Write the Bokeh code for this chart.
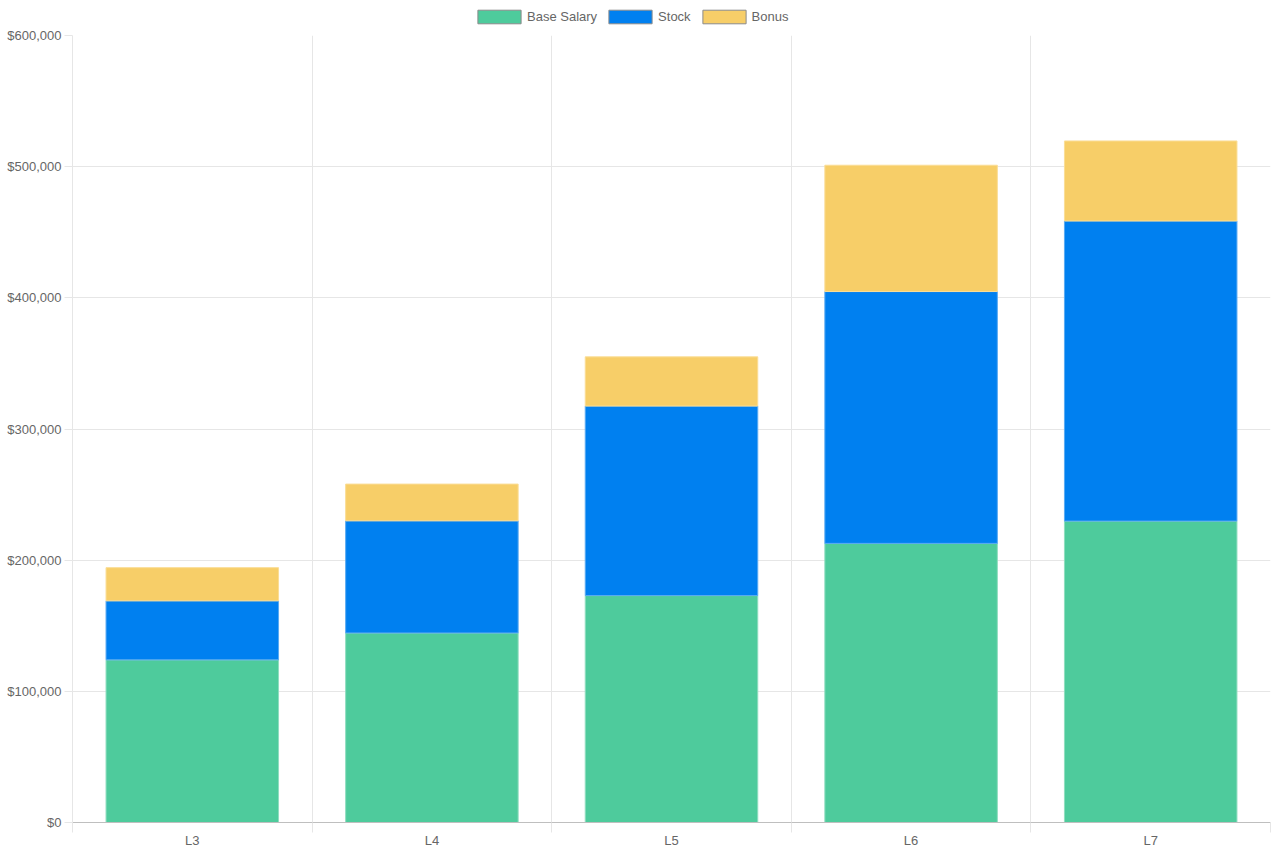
from bokeh.plotting import figure
from bokeh.layouts import column
from bokeh.models import (ColumnDataSource, Range1d, FixedTicker, NumeralTickFormatter,
                          Legend, LegendItem)
from bokeh.embed import file_html
from bokeh.resources import INLINE

# ---- data ----
categories = ["L3", "L4", "L5", "L6", "L7"]
base_salary = [124000, 144500, 173000, 212800, 229800]
stock = [45000, 85500, 144500, 192000, 228800]
bonus = [25300, 28000, 37500, 96300, 61000]
y_ticks = [0, 100000, 200000, 300000, 400000, 500000, 600000]

series_names = ["Base Salary", "Stock", "Bonus"]
fill_colors = ["#4ECB9C", "#0080F0", "#F7CE68"]
edge_colors = ["#8FDDBF", "#5AAAF2", "#FADD96"]

FONT = "Liberation Sans"
TXT = "#666666"
W = 1278
LEG_H = 27
MAIN_H = 824

n = len(categories)
xs = [i + 0.5 for i in range(n)]
src = ColumnDataSource(dict(x=xs, base=base_salary, stock=stock, bonus=bonus))

# ---- legend strip ----
lf = figure(width=W, height=LEG_H, output_backend="svg", toolbar_location=None,
            x_range=Range1d(0, 1), y_range=Range1d(0, 1),
            x_axis_location=None, y_axis_location=None,
            min_border_left=0, min_border_right=0, min_border_top=0, min_border_bottom=0)
lf.outline_line_color = None
lf.xgrid.visible = False
lf.ygrid.visible = False
items = []
for name, c in zip(series_names, fill_colors):
    dummy = ColumnDataSource(dict(x=[float("nan")], top=[float("nan")]))
    r = lf.vbar(x="x", top="top", width=0.5, source=dummy, fill_color=c,
                line_color="#8a8a8a", line_width=1)
    items.append(LegendItem(label=name, renderers=[r]))
legend = Legend(items=items, orientation="horizontal", location=(400, 2),
                glyph_width=54, glyph_height=17, label_standoff=1, spacing=6,
                padding=0, margin=0, border_line_color=None, background_fill_alpha=0,
                label_text_font=FONT, label_text_font_size="13px", label_text_color=TXT,
                label_height=17)
lf.add_layout(legend)

# ---- main chart ----
p = figure(width=W, height=MAIN_H, output_backend="svg", toolbar_location=None,
           x_range=Range1d(0, n), y_range=Range1d(0, y_ticks[-1]),
           min_border_left=72, min_border_right=8, min_border_top=8, min_border_bottom=29)
p.outline_line_color = None
p.background_fill_color = "white"
p.border_fill_color = "white"

p.vbar_stack(["base", "stock", "bonus"], x="x", width=0.72, source=src,
             fill_color=fill_colors, line_color=edge_colors, line_width=1)

# x axis: labels at centers, ticks/grid at boundaries
xt = FixedTicker(ticks=xs, minor_ticks=list(range(n + 1)))
p.xaxis.ticker = xt
p.xaxis.major_label_overrides = {x: c for x, c in zip(xs, categories)}
p.xaxis.major_tick_out = 0
p.xaxis.major_tick_in = 0
p.xaxis.minor_tick_out = 10
p.xaxis.minor_tick_in = 0
p.xaxis.minor_tick_line_color = "#e6e6e6"
p.xaxis.axis_line_color = "#bfbfbf"
p.xaxis.major_label_standoff = 0
p.xaxis.major_label_text_font = FONT
p.xaxis.major_label_text_font_size = "13px"
p.xaxis.major_label_text_color = TXT
p.xgrid.ticker = xt
p.xgrid.grid_line_color = None
p.xgrid.minor_grid_line_color = "#e6e6e6"

# y axis
p.yaxis.ticker = FixedTicker(ticks=y_ticks)
p.yaxis.formatter = NumeralTickFormatter(format="$0,0")
p.yaxis.axis_line_color = "#e6e6e6"
p.yaxis.major_tick_line_color = "#e6e6e6"
p.yaxis.major_tick_out = 8
p.yaxis.major_tick_in = 0
p.yaxis.minor_tick_line_color = None
p.yaxis.major_label_standoff = 3
p.yaxis.major_label_text_font = FONT
p.yaxis.major_label_text_font_size = "13px"
p.yaxis.major_label_text_color = TXT
p.ygrid.grid_line_color = "#e6e6e6"

layout = column(lf, p, spacing=0)
open("out.html", "w").write(file_html(layout, INLINE))
